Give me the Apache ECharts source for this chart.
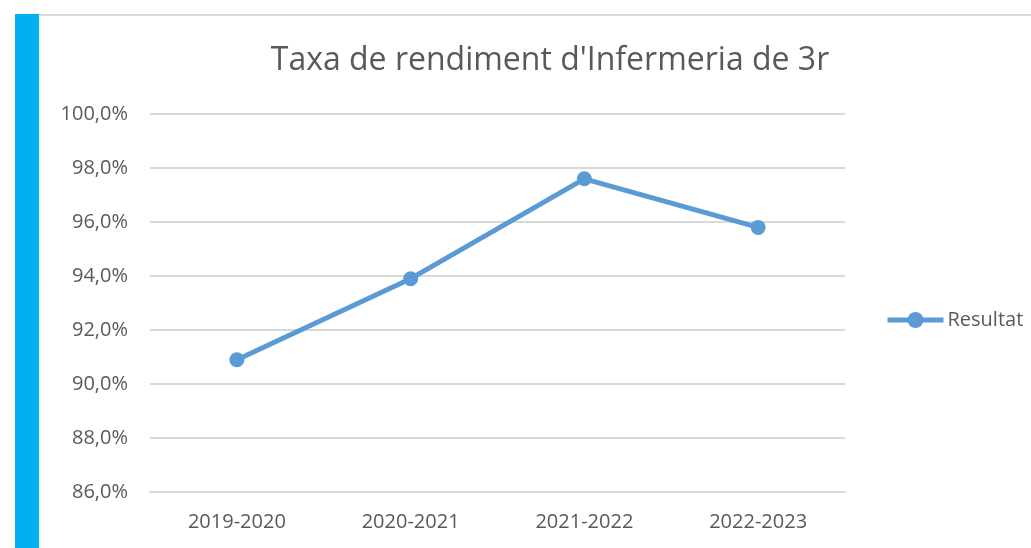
<!DOCTYPE html>
<html><head><meta charset="utf-8">
<script src="https://cdn.jsdelivr.net/npm/echarts@6/dist/echarts.min.js"></script>
<style>html,body{margin:0;padding:0;background:#fff;}#c{width:1031px;height:548px;}</style>
</head><body><div id="c"></div>
<script>
const categories = ['2019-2020','2020-2021','2021-2022','2022-2023'];
const resultat = [90.9, 93.9, 97.6, 95.8];
const seriesName = 'Resultat';
const titleText = "Taxa de rendiment d'Infermeria de 3r";
const FONT = "'Open Sans', 'Noto Sans', sans-serif";
const chart = echarts.init(document.getElementById('c'));
chart.setOption({
  animation: false,
  graphic: [
    {type:'rect', shape:{x:15,y:14,width:24,height:534}, style:{fill:'#00b0f0'}},
    {type:'line', shape:{x1:39,y1:15,x2:1031,y2:15}, style:{stroke:'#d9d9d9',lineWidth:2}},
    {type:'line', shape:{x1:40,y1:15,x2:40,y2:548}, style:{stroke:'#e6e6e6',lineWidth:1}}
  ],
  title: {text: titleText, left: 545, top: 40, textAlign: 'center',
    textStyle:{fontFamily:FONT, fontSize:32, fontWeight:'normal', color:'#595959'}},
  legend: {data:[seriesName], left: 880, top: 305, itemWidth: 56, itemHeight: 20, itemGap: 4,
    lineStyle:{width:5},
    textStyle:{fontFamily:FONT, fontSize:20, color:'#595959', padding:[0,0,0,-1]}},
  grid: {left:150, right:186, top:114, bottom:56, containLabel:false},
  xAxis: {type:'category', data: categories, boundaryGap:true,
    axisLine:{show:true, lineStyle:{color:'#d9d9d9', width:2}}, axisTick:{show:false},
    axisLabel:{fontFamily:FONT, fontSize:20, color:'#595959', margin:20}},
  yAxis: {type:'value', min:86, max:100, interval:2,
    axisLine:{show:false}, axisTick:{show:false},
    splitLine:{lineStyle:{color:'#d9d9d9', width:2}},
    axisLabel:{fontFamily:FONT, fontSize:20, color:'#595959', margin:22,
      formatter: v => v.toFixed(1).replace('.', ',') + '%'}},
  series: [{name: seriesName, type:'line', data: resultat,
    symbol:'circle', symbolSize:15,
    lineStyle:{color:'#5b9bd5', width:5}, itemStyle:{color:'#5b9bd5'}}]
});
</script></body></html>
